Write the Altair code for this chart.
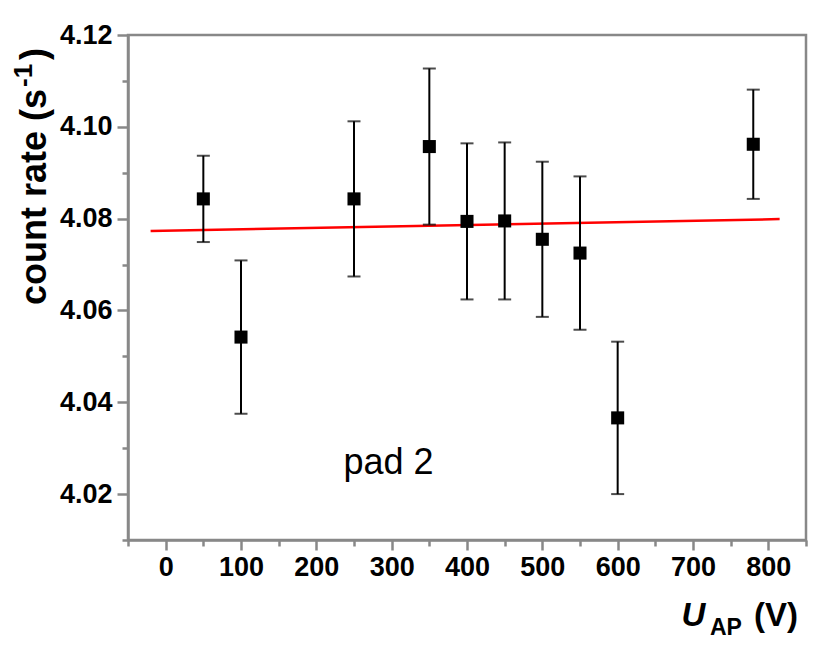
import altair as alt
import pandas as pd

# data
u_ap = [50, 100, 250, 350, 400, 450, 500, 550, 600, 780]
rate = [4.0843, 4.0542, 4.0843, 4.0957, 4.0794, 4.0795, 4.0755, 4.0725, 4.0366, 4.0962]
err = [0.0094, 0.0167, 0.0169, 0.0170, 0.0170, 0.0171, 0.0169, 0.0167, 0.0166, 0.0119]
fit_x = [-20, 815]
fit_y = [4.0773, 4.0799]
x_ticks = [-50, 0, 50, 100, 150, 200, 250, 300, 350, 400, 450, 500, 550, 600, 650, 700, 750, 800, 850]
y_ticks = [4.01, 4.02, 4.03, 4.04, 4.05, 4.06, 4.07, 4.08, 4.09, 4.10, 4.11, 4.12]

df = pd.DataFrame({
    "u": u_ap,
    "r": rate,
    "lo": [r - e for r, e in zip(rate, err)],
    "hi": [r + e for r, e in zip(rate, err)],
})
fit = pd.DataFrame({"u": fit_x, "r": fit_y})
one = pd.DataFrame({"k": [0]})
note = pd.DataFrame({"u": [236], "r": [4.0244], "t": ["pad 2"]})

AX = "#888888"
FONT = "Liberation Sans"

xscale = alt.Scale(domain=[-50, 850], nice=False, zero=False)
yscale = alt.Scale(domain=[4.01, 4.12], nice=False, zero=False)

xaxis = alt.Axis(
    values=x_ticks, title=None, grid=False,
    labelExpr="datum.value % 100 == 0 ? datum.label : ''",
    tickSize={"condition": {"test": "datum.value % 100 == 0", "value": 10}, "value": 6},
    labelOverlap=False, labelFlush=False, labelPadding=4,
)
yaxis = alt.Axis(
    values=y_ticks, title=None, grid=False,
    labelExpr="round(datum.value*100) % 2 == 0 ? format(datum.value, '.2f') : ''",
    tickSize={"condition": {"test": "round(datum.value*100) % 2 == 0", "value": 11}, "value": 6},
    labelOverlap=False, labelFlush=False, labelPadding=5,
)

X = alt.X("u:Q", scale=xscale, axis=xaxis)
Y = alt.Y("r:Q", scale=yscale, axis=yaxis)

line = alt.Chart(fit).mark_line(color="#ff0000", strokeWidth=2.5).encode(x=X, y=Y)

bars = alt.Chart(df).mark_rule(color="black", strokeWidth=2).encode(
    x=X, y=alt.Y("lo:Q", scale=yscale, axis=yaxis), y2="hi:Q")
cap_lo = alt.Chart(df).mark_tick(color="black", orient="horizontal", size=13, thickness=2).encode(
    x=X, y=alt.Y("lo:Q", scale=yscale, axis=yaxis))
cap_hi = alt.Chart(df).mark_tick(color="black", orient="horizontal", size=13, thickness=2).encode(
    x=X, y=alt.Y("hi:Q", scale=yscale, axis=yaxis))
pts = alt.Chart(df).mark_square(color="black", size=170, opacity=1).encode(x=X, y=Y)

label = alt.Chart(note).mark_text(font=FONT, fontSize=36, align="left", baseline="alphabetic",
                                  color="black").encode(x=X, y=Y, text="t:N")

# axis titles as text
def txt(s, x, y, size, **kw):
    return alt.Chart(one).mark_text(text=s, font=FONT, fontSize=size, fontWeight="bold",
                                    color="black", **kw).encode(x=alt.value(x), y=alt.value(y))

xt1 = txt("U", 553.5, 591, 33, fontStyle="italic", align="left", baseline="alphabetic")
xt2 = txt("AP", 582, 600, 23, align="left", baseline="alphabetic")
xt3 = txt("(V)", 670, 591, 33, align="right", baseline="alphabetic")

yt1 = txt("count rate (s", -82, 270, 36, angle=270, align="left", baseline="alphabetic")
yt2 = txt("-1", -96, 52, 26, angle=270, align="left", baseline="alphabetic")
yt3 = txt(")", -82, 25, 36, angle=270, align="left", baseline="alphabetic")

chart = alt.layer(line, bars, cap_lo, cap_hi, pts, label, xt1, xt2, xt3, yt1, yt2, yt3).properties(
    width=678, height=505,
    padding={"left": 120, "top": 27, "right": 16, "bottom": 105},
    autosize=alt.AutoSizeParams(type="none"),
).configure_view(
    stroke=AX, strokeWidth=2.5
).configure_axis(
    domainColor=AX, domainWidth=2.5, tickColor=AX, tickWidth=2.5,
    labelFont=FONT, labelFontSize=27, labelFontWeight="bold", labelColor="black",
)

chart.save("out.html", embed_options={"renderer": "svg", "actions": False})
